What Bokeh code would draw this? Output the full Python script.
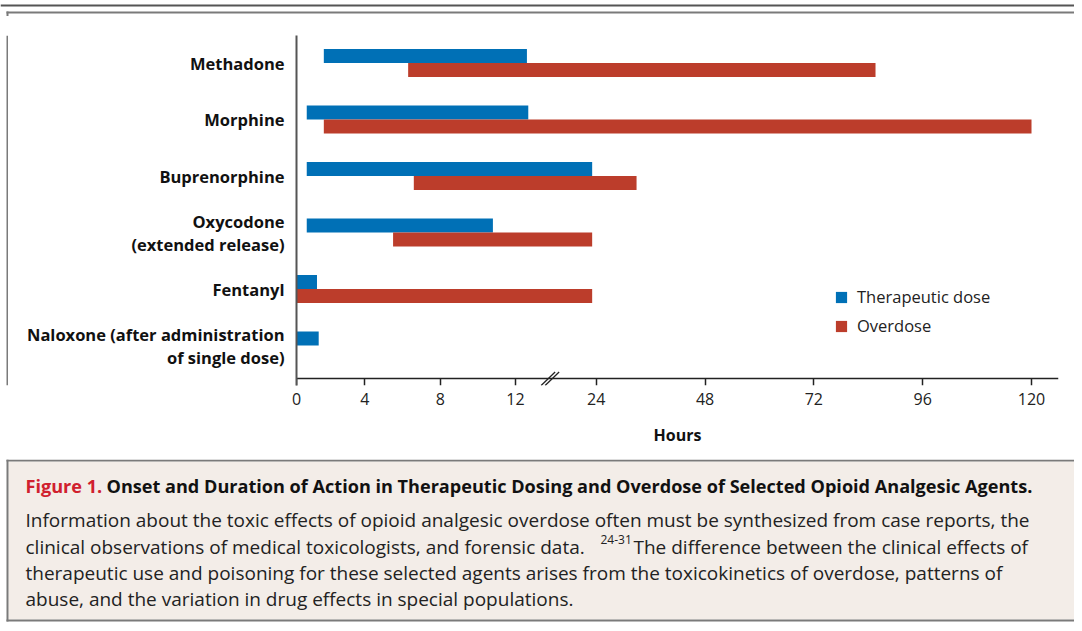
import numpy as np
from bokeh.plotting import figure
from bokeh.models import (Range1d, FixedTicker, Legend, LegendItem, ColumnDataSource,
                          LinearAxis)
from bokeh.transform import dodge
from bokeh.layouts import column, row
from bokeh.core.properties import value
from bokeh.embed import file_html
from bokeh.resources import INLINE

# ---------------- data ----------------
drugs = ["Methadone", "Morphine", "Buprenorphine",
         "Oxycodone\n(extended release)", "Fentanyl",
         "Naloxone (after administration\nof single dose)"]
ther_start = [1.6, 0.6, 0.6, 0.6, 0.0, 0.0]
ther_end = [13.7, 13.9, 23.4, 10.8, 1.2, 1.3]
over_start = [6.3, 1.6, 6.6, 5.5, 0.0, None]
over_end = [85.6, 120.0, 32.9, 23.4, 23.4, None]
tick_hours = [0, 4, 8, 12, 24, 48, 72, 96, 120]
tick_labels = ["0", "4", "8", "12", "24", "48", "72", "96", "120"]
legend_labels = ["Therapeutic dose", "Overdose"]

# ---------------- broken-axis scale (hours -> axis position) ----------------
SCALE_H = [0, 4, 8, 12, 24, 120]
SCALE_POS = [0, 68.3, 143.7, 219.0, 299.7, 735.0]


def to_axis(h):
    if h is None:
        return np.nan
    return float(np.interp(h, SCALE_H, SCALE_POS))


FONT = "Open Sans"
BLUE = "#0070b6"
RED = "#bc3d2b"
BORDER = "#7a7a7a"

# category slots, first drug at the top
slot = [len(drugs) - 1 - i for i in range(len(drugs))]

src = ColumnDataSource(dict(
    slot=slot,
    ts=[to_axis(v) for v in ther_start],
    te=[to_axis(v) for v in ther_end],
    os=[to_axis(v) for v in over_start],
    oe=[to_axis(v) for v in over_end],
))

# ---------------- chart figure ----------------
Y_START, Y_END, AXIS_Y = -0.708, 5.487, -0.584
p = figure(width=1066, height=443, x_range=Range1d(0, 762),
           y_range=Range1d(Y_START, Y_END),
           output_backend="svg", toolbar_location=None,
           min_border_left=288, min_border_right=16,
           min_border_top=19, min_border_bottom=74)
p.background_fill_color = "white"
p.border_fill_color = "white"
p.outline_line_color = None
p.xgrid.visible = False
p.ygrid.visible = False

bh = 0.2478
r1 = p.hbar(y=dodge("slot", bh / 2), left="ts", right="te", height=bh,
            source=src, fill_color=BLUE, line_color=None)
r2 = p.hbar(y=dodge("slot", -bh / 2), left="os", right="oe", height=bh,
            source=src, fill_color=RED, line_color=None)

tick_pos = [to_axis(h) for h in tick_hours]

# axis line + ticks, pinned at the baseline inside the frame
ax_line = p.xaxis[0]
ax_line.fixed_location = AXIS_Y
ax_line.ticker = FixedTicker(ticks=tick_pos, minor_ticks=[])
ax_line.major_label_overrides = {t: "" for t in tick_pos}
ax_line.axis_line_color = "#222222"
ax_line.axis_line_width = 1.5
ax_line.major_tick_line_color = "#222222"
ax_line.major_tick_line_width = 1.5
ax_line.major_tick_out = 7
ax_line.major_tick_in = 0
ax_line.minor_tick_line_color = None

# tick labels + axis title
ax_lab = LinearAxis(ticker=FixedTicker(ticks=tick_pos, minor_ticks=[]),
                    major_label_overrides={t: l for t, l in zip(tick_pos, tick_labels)},
                    axis_line_color=None, major_tick_line_color=None,
                    minor_tick_line_color=None, major_tick_out=0, major_tick_in=0,
                    major_label_standoff=7, major_label_text_font=FONT,
                    major_label_text_font_size="16px", major_label_text_color="#222222",
                    axis_label="Hours", axis_label_text_font=FONT,
                    axis_label_text_font_style="bold", axis_label_text_font_size="16px",
                    axis_label_text_color="#111111", axis_label_standoff=16)
p.add_layout(ax_lab, "below")

p.yaxis.ticker = FixedTicker(ticks=slot, minor_ticks=[])
p.yaxis.major_label_overrides = {s: d for s, d in zip(slot, drugs)}
p.yaxis.axis_line_color = "#555555"
p.yaxis.axis_line_width = 2
p.yaxis.major_tick_line_color = None
p.yaxis.minor_tick_line_color = None
p.yaxis.major_label_standoff = 6
p.yaxis.major_label_text_font = FONT
p.yaxis.major_label_text_font_style = "bold"
p.yaxis.major_label_text_font_size = "16.5px"
p.yaxis.major_label_text_color = "#111111"
p.yaxis.major_label_text_line_height = 1.0

# axis break mark: two short slanted strokes across the x axis between 12 and 24 h
brk = to_axis(17.0)
p.segment(x0=[brk - 8, brk - 4], y0=[Y_START, Y_START],
          x1=[brk + 6, brk + 10], y1=[AXIS_Y + 0.115, AXIS_Y + 0.115],
          line_color="#222222", line_width=1.3)

legend = Legend(items=[LegendItem(label=legend_labels[0], renderers=[r1]),
                       LegendItem(label=legend_labels[1], renderers=[r2])],
                location=(538, 48), glyph_width=14, glyph_height=14,
                label_height=14, spacing=6, padding=0, margin=0,
                label_standoff=9, label_text_font=FONT,
                label_text_font_size="16.5px", label_text_color="#222222",
                border_line_color=None, background_fill_alpha=0)
p.add_layout(legend)

# ---------------- frame strips ----------------
def blank(w, h, xr, yr_):
    f = figure(width=w, height=h, x_range=xr, y_range=yr_, output_backend="svg",
               toolbar_location=None, min_border=0)
    f.axis.visible = False
    f.grid.visible = False
    f.outline_line_color = None
    f.background_fill_color = "white"
    f.border_fill_color = "white"
    return f


W, H = 1074, 623
top = blank(W, 16, Range1d(0, W), Range1d(16, 0))
top.quad(left=0, right=W, top=4, bottom=6, fill_color="#555555", line_color=None)
top.quad(left=6, right=W, top=11, bottom=13, fill_color=BORDER, line_color=None)
top.quad(left=6, right=8, top=11, bottom=16, fill_color=BORDER, line_color=None)

left = blank(8, 443, Range1d(0, 8), Range1d(0, 443))
left.quad(left=6, right=8, top=443, bottom=0, fill_color=BORDER, line_color=None)

# ---------------- caption ----------------
cap = blank(W, H - 459, Range1d(0, W), Range1d(H, 459))
cap.quad(left=8, right=W, top=461, bottom=619, fill_color="#f3ede8", line_color=None)
cap.quad(left=6, right=W, top=459, bottom=461, fill_color=BORDER, line_color=None)
cap.quad(left=6, right=W, top=619, bottom=621, fill_color=BORDER, line_color=None)
cap.quad(left=6, right=8, top=459, bottom=621, fill_color=BORDER, line_color=None)

cap_title_a = "Figure 1."
cap_title_b = ("Onset and Duration of Action in Therapeutic Dosing and Overdose "
               "of Selected Opioid Analgesic Agents.")
cap_lines = [
    "Information about the toxic effects of opioid analgesic overdose often must be synthesized from case reports, the",
    "clinical observations of medical toxicologists, and forensic data.",
    "therapeutic use and poisoning for these selected agents arises from the toxicokinetics of overdose, patterns of",
    "abuse, and the variation in drug effects in special populations.",
]
cap_sup = "24-31"
cap_line2b = "The difference between the clinical effects of"

body = dict(text_font=value(FONT), text_baseline="middle", text_font_size="19px")
head = dict(text_font=value(FONT), text_baseline="middle", text_font_size="18.1px",
            text_font_style="bold")
cap.text(x=[25], y=[485], text=[cap_title_a], text_color="#d0202e", **head)
cap.text(x=[106], y=[485], text=[cap_title_b], text_color="#111111", **head)
cap.text(x=[25, 25, 25, 25], y=[519, 546, 572, 598], text=cap_lines,
         text_color="#222222", **body)
cap.text(x=[600], y=[539], text=[cap_sup], text_font=value(FONT),
         text_baseline="middle", text_font_size="12px", text_color="#222222")
cap.text(x=[633], y=[546], text=[cap_line2b], text_color="#222222", **body)

layout = column(top, row(left, p, spacing=0), cap, spacing=0)

open("out.html", "w").write(file_html(layout, INLINE))
